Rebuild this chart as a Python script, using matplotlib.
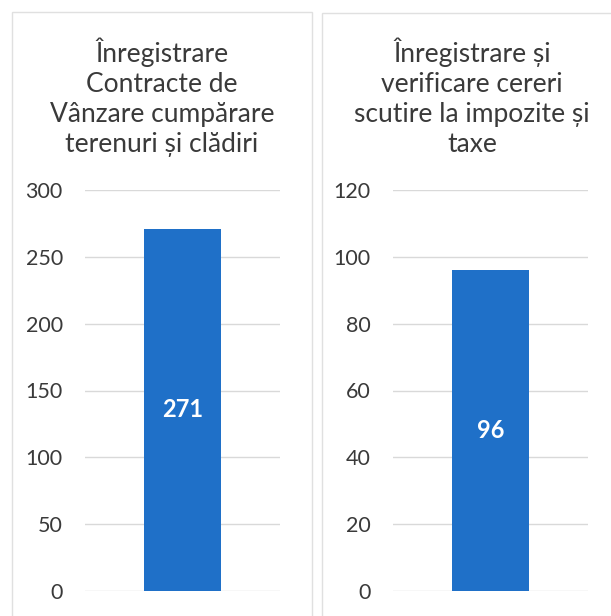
import matplotlib.pyplot as plt
from matplotlib.patches import Rectangle

plt.rcParams['font.family'] = ['Lato', 'DejaVu Sans']

titles = ['Înregistrare\nContracte de\nVânzare cumpărare\nterenuri și clădiri',
          'Înregistrare și\nverificare cereri\nscutire la impozite și\ntaxe']
values = [271, 96]
ymax = [300, 120]
ystep = [50, 20]

W, H = 611, 616
fig = plt.figure(figsize=(W / 100, H / 100), dpi=100)

bar_color = '#1f70c8'
grid_color = '#d9d9d9'
text_color = '#3a3a3a'

# chart frames (px: left, top, right)
frames = [(12, 12, 312), (322, 13, 640)]
ax_x = [(85, 280), (393, 588)]
title_x = [162, 472]

for i in range(2):
    fl, ft, fr = frames[i]
    fig.patches.append(Rectangle((fl / W, -0.05), (fr - fl) / W, 1.05 - ft / H,
                                 transform=fig.transFigure, fill=False,
                                 edgecolor='#e0e0e0', linewidth=1))
    x0, x1 = ax_x[i]
    ax = fig.add_axes([x0 / W, 25 / H, (x1 - x0) / W, 401 / H])
    ax.bar([0], [values[i]], width=0.395, color=bar_color, zorder=3)
    ax.set_xlim(-0.5, 0.5)
    ax.set_ylim(0, ymax[i])
    ticks = list(range(0, ymax[i] + 1, ystep[i]))
    ax.set_yticks(ticks)
    ax.set_yticklabels([str(t) for t in ticks], fontsize=15.5, color=text_color)
    ax.tick_params(axis='y', length=0, pad=16)
    ax.set_xticks([])
    ax.grid(axis='y', color=grid_color, linewidth=1, zorder=0)
    for s in ax.spines.values():
        s.set_visible(False)
    ax.text(0, values[i] / 2, str(values[i]), ha='center', va='center',
            color='white', fontsize=17, fontweight='bold', zorder=4)
    fig.text(title_x[i] / W, 1 - 97 / H, titles[i], ha='center', va='center',
             fontsize=19, color=text_color, linespacing=1.25)

fig.savefig('out.png', dpi=100, facecolor='white')
